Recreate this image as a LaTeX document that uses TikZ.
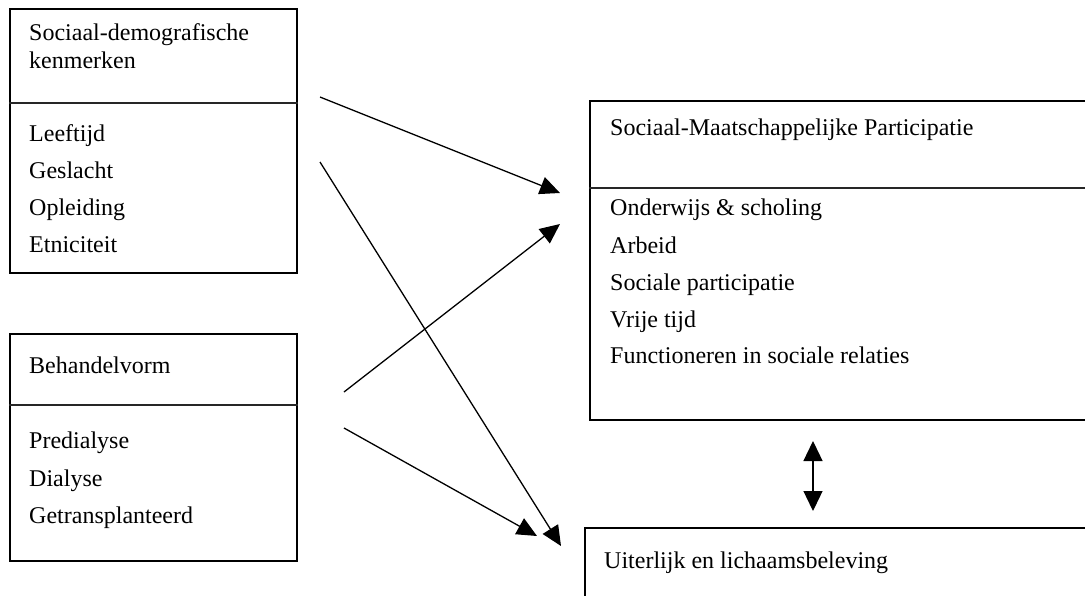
\documentclass[tikz,border=0pt]{standalone}
\usepackage{fontspec}
\setmainfont{Liberation Serif}
\usetikzlibrary{arrows.meta}
\begin{document}
\begin{tikzpicture}[x=1pt,y=-1pt,
  box/.style={draw=black,line width=2pt,rectangle,inner sep=0pt,anchor=north west},
  divider/.style={draw=black!85,line width=2pt},
  txt/.style={anchor=base west,inner sep=0pt,font=\fontsize{24}{28}\selectfont},
  conn/.style={line width=1.3pt,-{Triangle[length=20pt,width=18pt]}},
  dconn/.style={line width=1.3pt,{Triangle[length=20pt,width=19pt]}-{Triangle[length=20pt,width=19pt]}}]
\clip (0,0) rectangle (1085,595);
\fill[white] (0,0) rectangle (1085,595);
% boxes
\node[box,minimum width=287pt,minimum height=264pt] (demo) at (9,8) {};
\node[box,minimum width=287pt,minimum height=227pt] (beh) at (9,333) {};
\node[box,minimum width=520pt,minimum height=319pt] (smp) at (589,100) {};
\node[box,minimum width=520pt,minimum height=120pt] (uit) at (584,527) {};
% dividers
\coordinate (d1) at (9,103);
\coordinate (d2) at (9,405);
\coordinate (d3) at (589,188);
\draw[divider] (d1) -- (d1 -| demo.east);
\draw[divider] (d2) -- (d2 -| beh.east);
\draw[divider] (d3) -- (d3 -| smp.east);
% texts box 1
\node[txt] (t11) at (29,40) {Sociaal-demografische};
\node[txt] (t12) at (29,68) {kenmerken};
\node[txt] (t13) at (29,141) {Leeftijd};
\node[txt] (t14) at (29,178) {Geslacht};
\node[txt] (t15) at (29,215) {Opleiding};
\node[txt] (t16) at (29,252) {Etniciteit};
% texts box 2
\node[txt] (t21) at (29,373) {Behandelvorm};
\node[txt] (t22) at (29,448) {Predialyse};
\node[txt] (t23) at (29,486) {Dialyse};
\node[txt] (t24) at (29,523) {Getransplanteerd};
% texts box 3
\node[txt] (t31) at (610,135) {Sociaal-Maatschappelijke Participatie};
\node[txt] (t32) at (610,215) {Onderwijs \& scholing};
\node[txt] (t33) at (610,253) {Arbeid};
\node[txt] (t34) at (610,290) {Sociale participatie};
\node[txt] (t35) at (610,327) {Vrije tijd};
\node[txt] (t36) at (610,363) {Functioneren in sociale relaties};
% text box 4
\node[txt] (t41) at (604,568) {Uiterlijk en lichaamsbeleving};
% connector ends
\coordinate (s1) at (320,97);
\coordinate (e1) at (560,193);
\coordinate (s2) at (320,162);
\coordinate (e2) at (561,546);
\coordinate (s3) at (344,392);
\coordinate (e3) at (560,224);
\coordinate (s4) at (344,428);
\coordinate (e4) at (537,536);
\coordinate (u1) at (813,441);
\coordinate (u2) at (813,511);
\draw[conn] (s1) -- (e1);
\draw[conn] (s2) -- (e2);
\draw[conn] (s3) -- (e3);
\draw[conn] (s4) -- (e4);
\draw[dconn] (u1) -- (u2);
\end{tikzpicture}
\end{document}
